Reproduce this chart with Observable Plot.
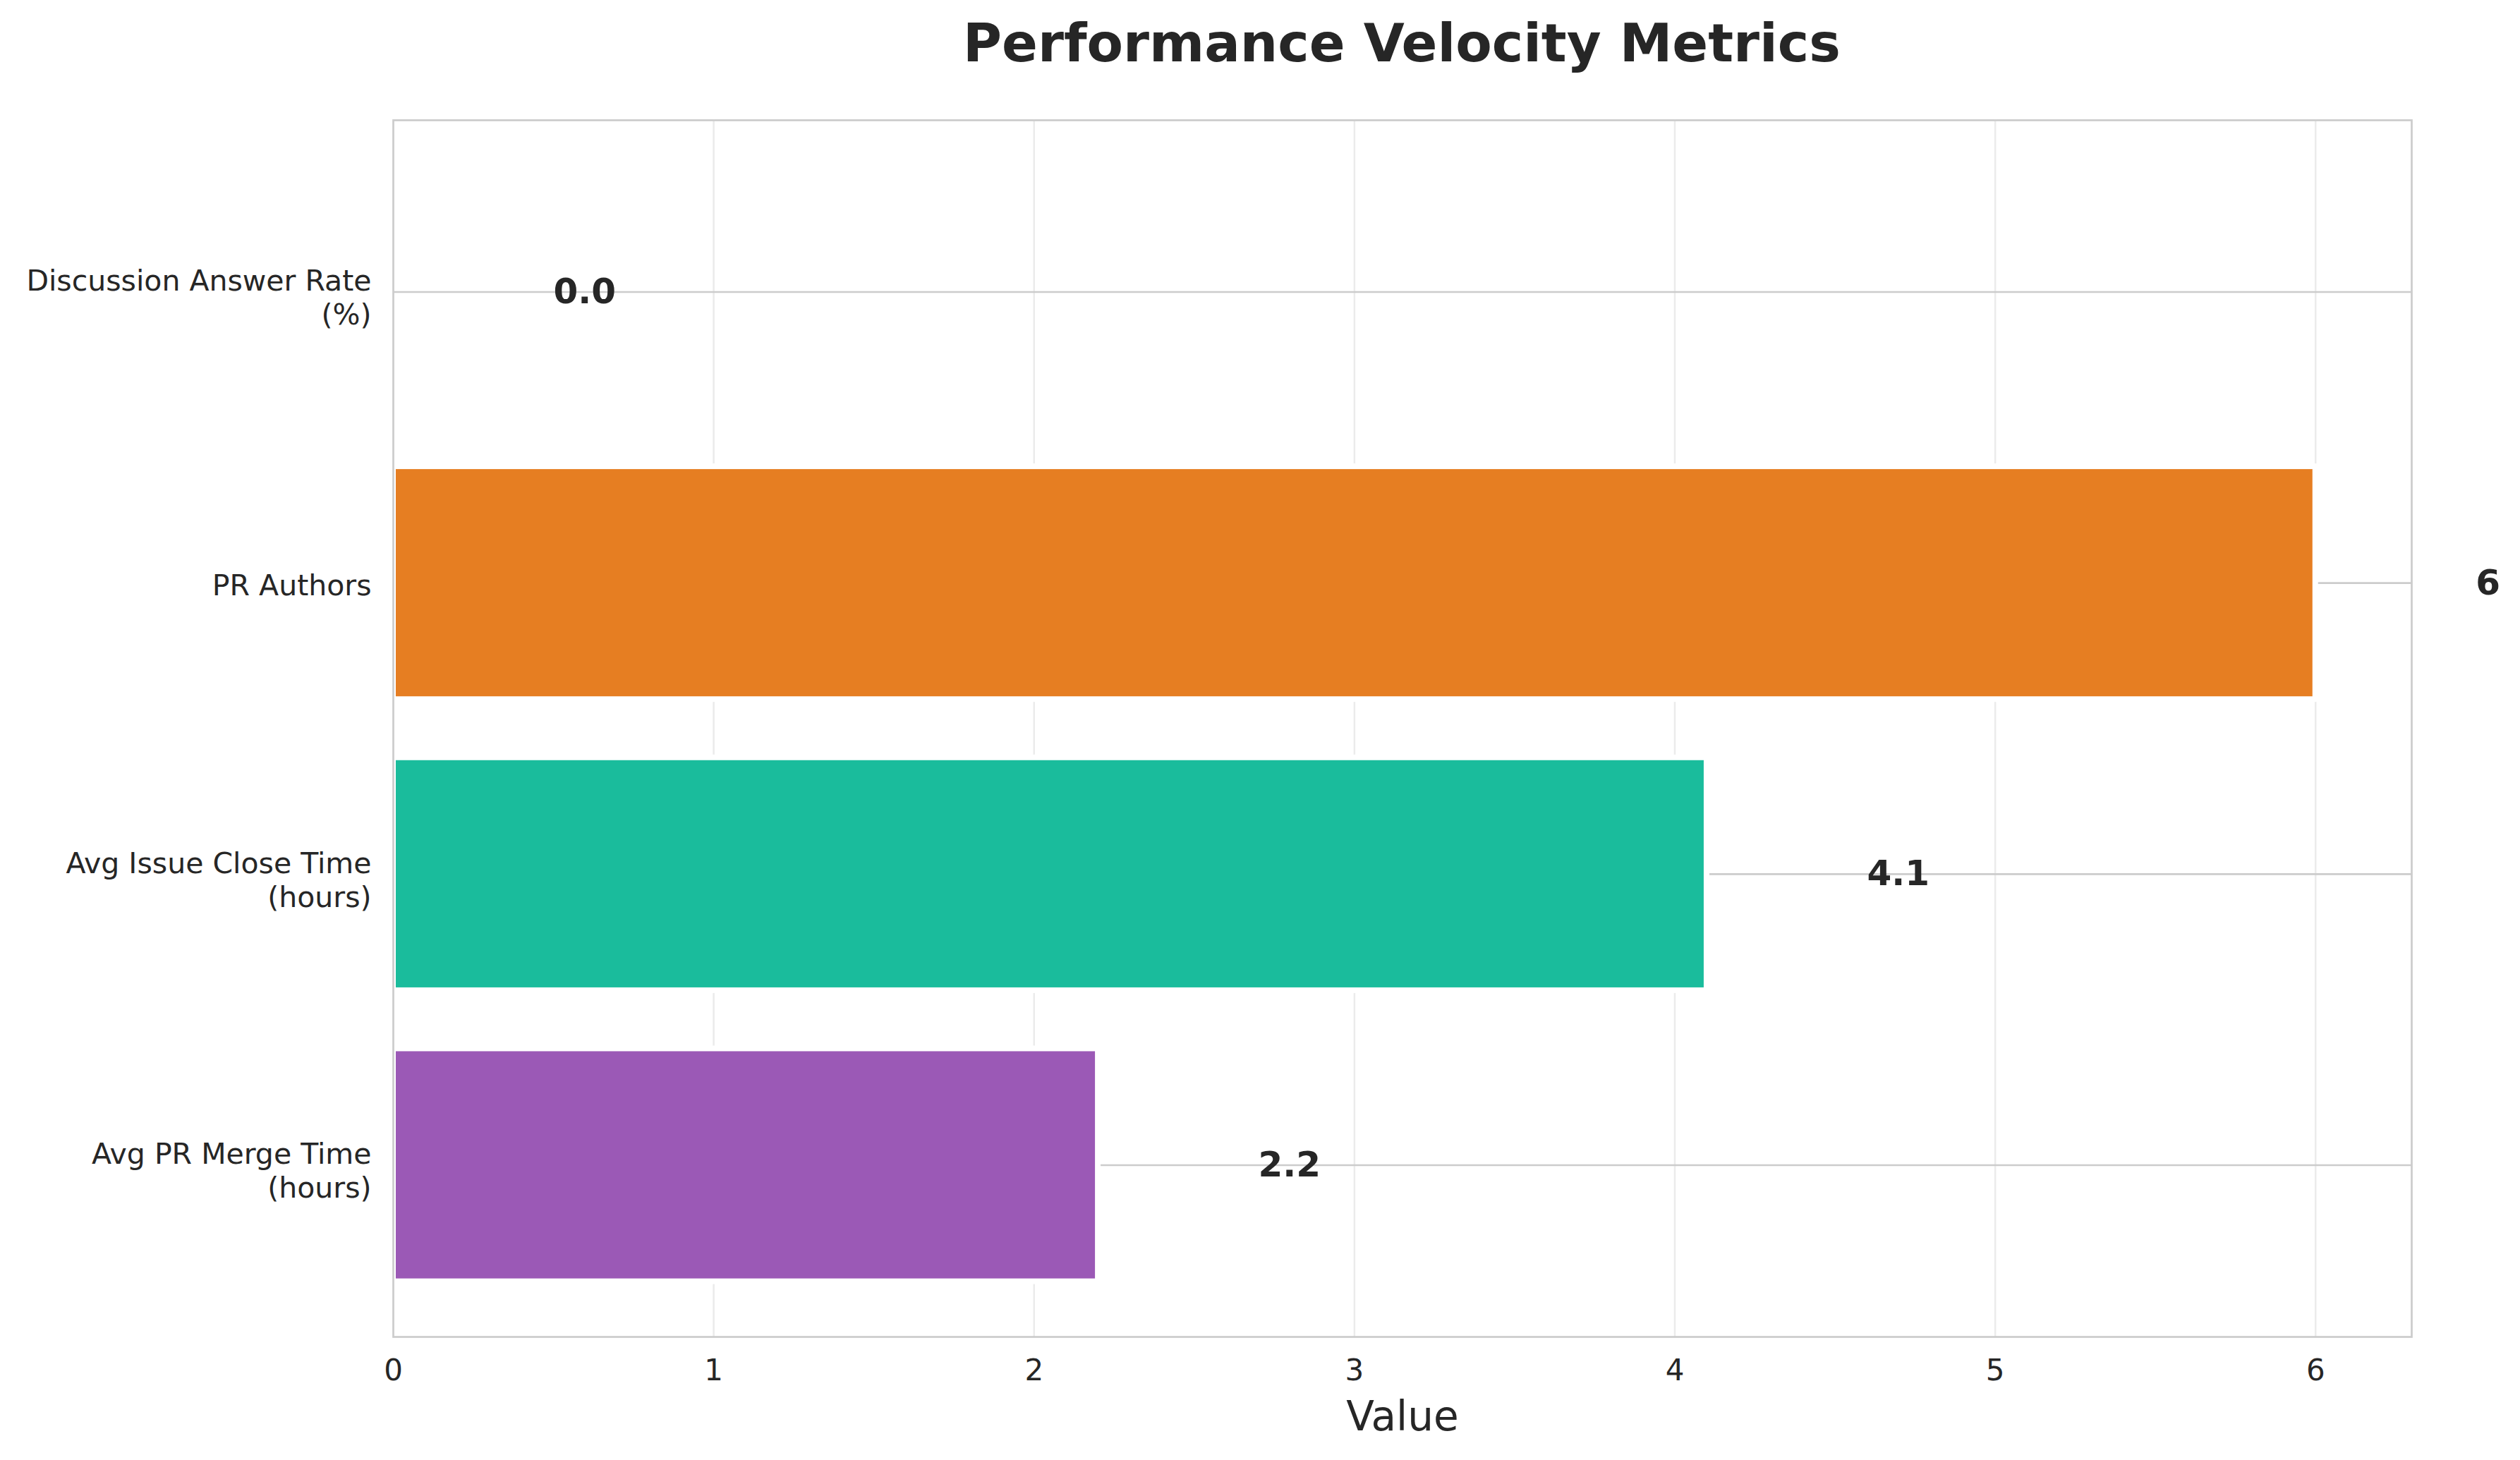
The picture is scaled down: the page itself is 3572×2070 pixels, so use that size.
<!DOCTYPE html>
<html>
<head>
<meta charset="utf-8">
<script src="https://cdn.jsdelivr.net/npm/d3@7"></script>
<script src="https://cdn.jsdelivr.net/npm/@observablehq/plot@0.6"></script>
<style>
  html, body { margin: 0; padding: 0; background: #ffffff; }
  #title {
    width: 3572px; height: 122px; box-sizing: border-box;
    padding-left: 402px; text-align: center;
    font: bold 75px "DejaVu Sans"; line-height: 122px; color: #262626;
    white-space: nowrap;
  }
</style>
</head>
<body>
<div id="title">Performance Velocity Metrics</div>
<div id="chart"></div>
<script>
// ---- data ----
const categories = [
  "Discussion Answer Rate\n(%)",
  "PR Authors",
  "Avg Issue Close Time\n(hours)",
  "Avg PR Merge Time\n(hours)"
];
const values = [0.0, 6, 4.1, 2.2];
const valueLabels = ["0.0", "6", "4.1", "2.2"];
const barColors = ["#3498DB", "#E67E22", "#1ABC9C", "#9B59B6"];
const xTicks = [0, 1, 2, 3, 4, 5, 6];
const xGridTicks = [1, 2, 3, 4, 5, 6];
const xLabel = "Value";

const rows = categories.map((c, i) => ({metric: c, value: values[i], label: valueLabels[i]}));
const multiRows = rows.filter(d => d.metric.includes("\n"));
const singleRows = rows.filter(d => !d.metric.includes("\n"));

const textColor = "#262626";

const chart = Plot.plot({
  width: 3572,
  height: 1948,
  marginLeft: 557,
  marginRight: 154,
  marginTop: 48,
  marginBottom: 175,
  style: {fontFamily: "DejaVu Sans", background: "#ffffff", overflow: "visible", color: textColor},
  x: {domain: [0, 6.3], axis: null},
  y: {type: "band", domain: categories, paddingInner: 0.2, paddingOuter: 0.19, round: false, axis: null},
  color: {domain: categories, range: barColors},
  marks: [
    Plot.gridX(xGridTicks, {stroke: "#ebebeb", strokeOpacity: 1, strokeWidth: 2.5}),
    Plot.ruleY(rows, {y: "metric", stroke: "#cccccc", strokeWidth: 2.7}),
    Plot.barX(rows, {x: "value", y: "metric", fill: "metric", stroke: "#ffffff", strokeWidth: 8}),
    Plot.text(rows, {x: "value", y: "metric", text: "label", dx: 227, textAnchor: "start", lineAnchor: "middle",
      fontSize: 50, fontWeight: "bold", fill: textColor, clip: false}),
    // y tick labels
    Plot.text(multiRows, {x: () => 0, y: "metric", text: "metric", textAnchor: "end", lineAnchor: "middle",
      dx: -31, dy: 7, lineHeight: 1.17, fontSize: 41, fill: textColor}),
    Plot.text(singleRows, {x: () => 0, y: "metric", text: "metric", textAnchor: "end", lineAnchor: "middle",
      dx: -31, dy: 4, fontSize: 41, fill: textColor}),
    // x axis tick labels
    Plot.axisX(xTicks, {tickSize: 0, tickPadding: 32, fontSize: 42, fill: textColor, tickFormat: d => String(d), label: null}),
    // x axis label
    Plot.text([xLabel], {frameAnchor: "bottom", text: d => d, lineAnchor: "middle", textAnchor: "middle", dy: 114, fontSize: 58, fill: textColor}),
    Plot.frame({stroke: "#cccccc", strokeWidth: 2.7})
  ]
});
document.getElementById("chart").appendChild(chart);
</script>
</body>
</html>
